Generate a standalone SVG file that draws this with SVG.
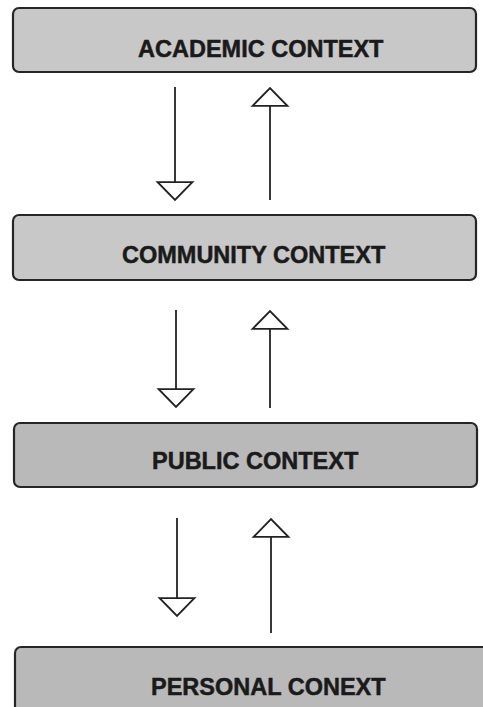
<svg xmlns="http://www.w3.org/2000/svg" width="483" height="707" viewBox="0 0 483 707">
<defs>
<style>
.box{stroke:#262626;stroke-width:2.2}
.lt{fill:#c8c8c8}
.dk{fill:#b9b9b9}
.lbl{font-family:"Liberation Sans",Arial,sans-serif;font-weight:bold;font-size:23.5px;fill:#1a1a1a;stroke:#1a1a1a;stroke-width:0.5}
.conn{stroke:#222;stroke-width:1.8;fill:none;marker-end:url(#head)}
</style>
<marker id="head" markerUnits="userSpaceOnUse" markerWidth="40" markerHeight="40" viewBox="-2 -19 22 38" refX="17" refY="0" orient="auto">
<path d="M0,-16.5 L17,0 L0,16.5 Z" fill="#fff" stroke="#222" stroke-width="1.8" stroke-linejoin="miter"/>
</marker>
</defs>
<rect width="483" height="707" fill="#fff"/>
<g id="academic">
<rect class="box lt" x="13" y="8" width="463" height="64" rx="6"/>
<text class="lbl" x="138" y="57">ACADEMIC CONTEXT</text>
</g>
<g id="community">
<rect class="box lt" x="13" y="215" width="463" height="65" rx="6"/>
<text class="lbl" x="122" y="263">COMMUNITY CONTEXT</text>
</g>
<g id="public">
<rect class="box dk" x="14" y="423" width="463" height="64" rx="6"/>
<text class="lbl" x="152" y="469">PUBLIC CONTEXT</text>
</g>
<g id="personal">
<rect class="box dk" x="15" y="647" width="480" height="70" rx="6"/>
<text class="lbl" x="151" y="695">PERSONAL CONEXT</text>
</g>
<g id="connectors">
<path class="conn" d="M175,87 V200"/>
<path class="conn" d="M270,200 V88"/>
<path class="conn" d="M176,310 V407"/>
<path class="conn" d="M270,408 V311"/>
<path class="conn" d="M177,518 V616"/>
<path class="conn" d="M271,633 V519"/>
</g>
</svg>
